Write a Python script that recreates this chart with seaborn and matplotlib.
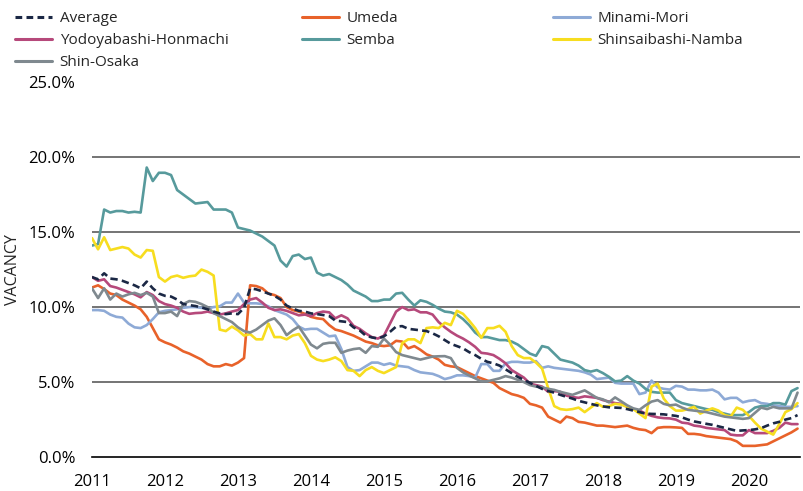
import numpy as np
import pandas as pd
import seaborn as sns
import matplotlib.pyplot as plt
from matplotlib.lines import Line2D
from matplotlib.ticker import FuncFormatter

# Monthly vacancy rates (%), Jan 2011 onwards
average = [
    12.0, 11.85, 12.25, 11.9, 11.85, 11.75, 11.6, 11.45, 11.25, 11.7, 11.25, 10.9,
    10.75, 10.7, 10.5, 10.2, 10.13, 10.07, 9.98, 9.85, 9.7, 9.58, 9.53, 9.58,
    9.53, 9.95, 11.25, 11.18, 11.05, 10.9, 10.75, 10.5, 10.1, 9.9, 9.75, 9.7,
    9.58, 9.53, 9.47, 9.4, 9.1, 9.05, 9.0, 8.65, 8.45, 8.1, 7.98, 7.9,
    8.05, 8.35, 8.7, 8.73, 8.55, 8.5, 8.45, 8.4, 8.25, 8.05, 7.8, 7.55,
    7.4, 7.25, 7.0, 6.8, 6.55, 6.35, 6.25, 6.1, 5.85, 5.6, 5.35, 5.15,
    4.95, 4.75, 4.55, 4.4, 4.3, 4.15, 4.02, 3.9, 3.75, 3.65, 3.55, 3.45,
    3.38, 3.32, 3.3, 3.28, 3.2, 3.1, 3.0, 2.9, 2.88, 2.87, 2.85, 2.8,
    2.75, 2.65, 2.5, 2.38, 2.3, 2.22, 2.15, 2.05, 1.95, 1.85, 1.75, 1.78,
    1.8, 1.85, 1.93, 2.1, 2.25, 2.35, 2.5, 2.6, 2.8,
]
umeda = [
    11.3, 11.45, 11.2, 10.9, 10.8, 10.5, 10.3, 10.1, 9.85, 9.35, 8.6, 7.85,
    7.65, 7.5, 7.3, 7.05, 6.9, 6.7, 6.5, 6.2, 6.05, 6.05, 6.2, 6.1,
    6.3, 6.6, 11.45, 11.4, 11.25, 10.9, 10.8, 10.6, 10.0, 9.8, 9.7, 9.55,
    9.35, 9.25, 9.2, 8.8, 8.5, 8.4, 8.25, 8.1, 7.9, 7.7, 7.6, 7.45,
    7.4, 7.45, 7.75, 7.7, 7.25, 7.4, 7.15, 6.85, 6.7, 6.5, 6.15, 6.05,
    6.0, 5.8, 5.6, 5.4, 5.25, 5.1, 4.95, 4.6, 4.4, 4.2, 4.1, 3.95,
    3.55, 3.45, 3.3, 2.7, 2.5, 2.3, 2.7, 2.6, 2.35, 2.3, 2.2, 2.1,
    2.1, 2.05, 2.0, 2.05, 2.1, 1.95, 1.85, 1.8, 1.6, 1.95, 2.0, 2.0,
    1.98, 1.95, 1.55, 1.55, 1.5, 1.4, 1.35, 1.3, 1.25, 1.2, 1.05, 0.75,
    0.75, 0.75, 0.8, 0.85, 1.05, 1.25, 1.45, 1.65, 1.9,
]
minami_mori = [
    9.8, 9.8, 9.75, 9.5, 9.35, 9.3, 8.9, 8.65, 8.6, 8.8, 9.2, 9.65,
    9.75, 9.8, 9.85, 9.95, 10.0, 10.0, 9.95, 9.9, 10.0, 10.05, 10.3, 10.3,
    10.9, 10.3, 10.25, 10.25, 10.2, 10.05, 9.8, 9.65, 9.5, 9.2, 8.7, 8.5,
    8.55, 8.55, 8.3, 8.05, 8.1, 7.2, 6.0, 5.75, 5.8, 6.05, 6.3, 6.3,
    6.15, 6.25, 6.1, 6.05, 6.0, 5.8, 5.65, 5.6, 5.55, 5.4, 5.2, 5.3,
    5.45, 5.45, 5.4, 5.3, 6.2, 6.2, 5.75, 5.75, 6.25, 6.35, 6.35, 6.3,
    6.3, 6.4, 5.95, 6.05, 5.95, 5.9, 5.85, 5.8, 5.75, 5.65, 5.5, 5.2,
    5.25, 5.3, 4.95, 4.9, 4.9, 4.9, 4.2, 4.3, 5.1, 4.65, 4.55, 4.5,
    4.75, 4.7, 4.5, 4.5, 4.45, 4.45, 4.5, 4.3, 3.85, 3.95, 3.95, 3.65,
    3.75, 3.8, 3.6, 3.55, 3.45, 3.4, 3.35, 3.35, 3.4,
]
yodoyabashi = [
    12.0, 11.75, 11.85, 11.4, 11.3, 11.15, 11.0, 10.85, 10.65, 11.0, 10.8, 10.4,
    10.2, 10.1, 9.95, 9.7, 9.55, 9.6, 9.62, 9.7, 9.6, 9.5, 9.58, 9.7,
    9.8, 10.2, 10.5, 10.6, 10.3, 9.95, 9.8, 9.85, 9.75, 9.6, 9.45, 9.5,
    9.4, 9.6, 9.7, 9.65, 9.25, 9.45, 9.25, 8.75, 8.55, 8.25, 8.0, 7.9,
    8.1, 8.9, 9.7, 10.0, 9.8, 9.85, 9.65, 9.65, 9.5, 9.0, 8.65, 8.35,
    8.1, 7.9, 7.65, 7.35, 6.95, 6.9, 6.8, 6.55, 6.25, 5.8, 5.55, 5.3,
    4.9, 4.8, 4.7, 4.35, 4.4, 4.35, 4.1, 4.0, 3.95, 4.05, 4.0, 3.95,
    3.8, 3.7, 3.6, 3.55, 3.35, 3.2, 3.1, 2.9, 2.75, 2.65, 2.6, 2.58,
    2.5, 2.3, 2.25, 2.1, 2.05, 1.95, 1.9, 1.85, 1.8, 1.5, 1.45, 1.45,
    1.8, 1.6, 1.6, 1.6, 1.75, 1.95, 2.3, 2.2, 2.2,
]
semba = [
    14.1, 14.2, 16.5, 16.3, 16.4, 16.4, 16.3, 16.35, 16.3, 19.3, 18.4, 18.95,
    18.95, 18.8, 17.8, 17.5, 17.2, 16.9, 16.95, 17.0, 16.5, 16.5, 16.5, 16.3,
    15.3, 15.2, 15.1, 14.9, 14.7, 14.4, 14.1, 13.1, 12.7, 13.4, 13.5, 13.2,
    13.3, 12.3, 12.1, 12.2, 12.0, 11.8, 11.5, 11.1, 10.9, 10.7, 10.4, 10.4,
    10.5, 10.5, 10.9, 10.95, 10.5, 10.1, 10.45, 10.35, 10.15, 9.9, 9.7, 9.65,
    9.5, 9.2, 8.8, 8.3, 8.0, 8.0, 7.9, 7.8, 7.8, 7.7, 7.5, 7.2,
    6.9, 6.75, 7.4, 7.3, 6.9, 6.5, 6.4, 6.3, 6.1, 5.8, 5.7, 5.8,
    5.6, 5.35, 5.05, 5.1, 5.4, 5.1, 4.9, 4.55, 4.35, 4.3, 4.3, 4.3,
    3.8, 3.6, 3.5, 3.4, 3.3, 3.2, 3.15, 3.0, 2.9, 2.8, 2.8, 2.8,
    3.0, 3.3, 3.4, 3.4, 3.6, 3.6, 3.5, 4.4, 4.6,
]
shinsaibashi = [
    14.6, 13.85, 14.65, 13.8, 13.9, 14.0, 13.9, 13.5, 13.3, 13.8, 13.75, 12.0,
    11.7, 12.0, 12.1, 11.95, 12.05, 12.1, 12.5, 12.35, 12.1, 8.5, 8.4, 8.7,
    8.45, 8.1, 8.2, 7.85, 7.85, 8.9, 8.0, 8.0, 7.85, 8.1, 8.2, 7.6,
    6.75, 6.5, 6.4, 6.5, 6.65, 6.4, 5.8, 5.75, 5.4, 5.8, 6.0, 5.75,
    5.6, 5.8, 6.0, 7.6, 7.85, 7.85, 7.6, 8.6, 8.65, 8.6, 8.95, 8.8,
    9.75, 9.55, 9.1, 8.6, 7.95, 8.6, 8.6, 8.75, 8.35, 7.4, 6.8, 6.6,
    6.6, 6.3, 5.9, 4.6, 3.4, 3.2, 3.15, 3.2, 3.3, 3.0, 3.3, 3.6,
    3.35, 3.4, 3.55, 3.5, 3.35, 3.2, 2.9, 2.6, 4.7, 4.9, 3.9, 3.4,
    3.1, 3.1, 3.2, 3.35, 2.9, 3.1, 3.25, 3.1, 2.8, 2.7, 3.3, 3.15,
    2.75, 2.3, 1.9, 1.7, 1.5, 2.2, 3.0, 3.2, 3.6,
]
shin_osaka = [
    11.25, 10.6, 11.25, 10.5, 10.9, 10.7, 10.85, 10.95, 10.8, 10.95, 10.7, 9.6,
    9.6, 9.7, 9.4, 10.2, 10.4, 10.35, 10.2, 10.0, 9.6, 9.4, 9.2, 9.0,
    8.65, 8.4, 8.3, 8.5, 8.8, 9.1, 9.25, 8.8, 8.13, 8.45, 8.7, 8.1,
    7.5, 7.25, 7.55, 7.62, 7.62, 6.95, 7.1, 7.2, 7.25, 6.95, 7.4, 7.35,
    7.9, 7.5, 7.0, 6.8, 6.7, 6.6, 6.5, 6.6, 6.7, 6.72, 6.73, 6.6,
    5.95, 5.65, 5.45, 5.25, 5.05, 5.05, 5.15, 5.25, 5.4, 5.3, 5.15, 5.0,
    4.8, 4.7, 4.65, 4.55, 4.48, 4.35, 4.25, 4.15, 4.3, 4.45, 4.2, 3.95,
    3.85, 3.65, 3.98, 3.72, 3.45, 3.25, 3.15, 3.45, 3.7, 3.8, 3.55, 3.45,
    3.5, 3.3, 3.15, 3.1, 3.05, 3.0, 2.9, 2.8, 2.7, 2.65, 2.6, 2.55,
    2.6, 2.95, 3.3, 3.2, 3.35, 3.25, 3.25, 3.25, 4.3,
]

names = ["Average", "Umeda", "Minami-Mori", "Yodoyabashi-Honmachi",
         "Semba", "Shinsaibashi-Namba", "Shin-Osaka"]
values = [average, umeda, minami_mori, yodoyabashi, semba, shinsaibashi, shin_osaka]
colors = ["#1b2845", "#e8622a", "#8eaad6", "#b6497b", "#579a9c", "#f7dd1f", "#7f898f"]
palette = dict(zip(names, colors))

frames = []
for name, vals in zip(names, values):
    t = 2011 + np.arange(len(vals)) / 12
    frames.append(pd.DataFrame({"year": t, "vacancy": vals, "area": name}))
df = pd.concat(frames, ignore_index=True)

sns.set_theme(style="white")
plt.rcParams["font.family"] = ["Open Sans", "DejaVu Sans"]

fig, ax = plt.subplots(figsize=(8.04, 4.91), dpi=100)
fig.subplots_adjust(left=0.1144, right=0.995, top=0.833, bottom=0.069)

# draw the dashed average last so it sits on top
order = names[1:] + ["Average"]
dashes = {n: "" for n in names}
dashes["Average"] = (2.8, 1.6)
sns.lineplot(data=df, x="year", y="vacancy", hue="area", hue_order=order,
             palette=palette, style="area", style_order=order, dashes=dashes,
             linewidth=1.9, ax=ax, legend=False)

ax.set_xlim(2011, 2020.7)
ax.set_ylim(0, 25)
ax.set_xticks(range(2011, 2021))
ax.set_yticks(np.arange(0, 26, 5))
ax.yaxis.set_major_formatter(FuncFormatter(lambda v, p: f"{v:.1f}%"))
for y in [5, 10, 15, 20]:
    ax.axhline(y, color="#5c5c5c", lw=1.2, zorder=0)
for s in ["top", "right", "left"]:
    ax.spines[s].set_visible(False)
ax.spines["bottom"].set_color("black")
ax.spines["bottom"].set_linewidth(1.2)
ax.tick_params(length=0, labelsize=12, colors="black")
ax.tick_params(axis="x", pad=12)
ax.tick_params(axis="y", pad=12)
ax.set_xlabel("")
ax.set_ylabel("VACANCY", fontsize=11.5)
ax.yaxis.set_label_coords(-0.1, 0.5)

# legend laid out as three columns
def handle(name):
    return Line2D([], [], color=palette[name], lw=2.2,
                  dashes=(2.2, 1.4) if name == "Average" else (None, None),
                  linestyle="--" if name == "Average" else "-")

columns = [(["Average", "Yodoyabashi-Honmachi", "Shin-Osaka"], 0.019),
           (["Umeda", "Semba"], 0.376),
           (["Minami-Mori", "Shinsaibashi-Namba"], 0.688)]
for labels, x0 in columns:
    fig.legend([handle(n) for n in labels], labels, loc="upper left",
               bbox_to_anchor=(x0, 0.977), frameon=False, fontsize=11,
               handlelength=2.4, handletextpad=0.5, labelspacing=0.45,
               borderpad=0, borderaxespad=0)

plt.savefig("out.png", dpi=100)
